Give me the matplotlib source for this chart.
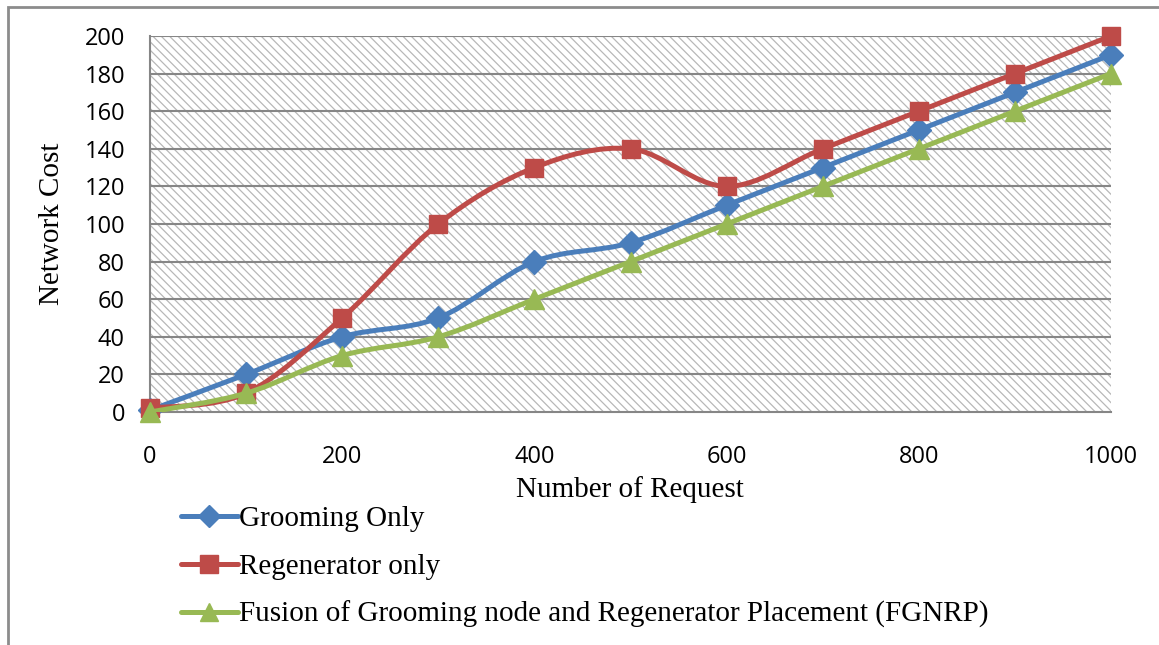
import numpy as np
import matplotlib
matplotlib.use("Agg")
import matplotlib.pyplot as plt
from matplotlib.path import Path
from matplotlib.patches import PathPatch, Rectangle
from matplotlib.lines import Line2D

requests = [0, 100, 200, 300, 400, 500, 600, 700, 800, 900, 1000]
grooming_only = [1, 20, 40, 50, 80, 90, 110, 130, 150, 170, 190]
regenerator_only = [2, 10, 50, 100, 130, 140, 120, 140, 160, 180, 200]
fgnrp = [0, 10, 30, 40, 60, 80, 100, 120, 140, 160, 180]

labels = ["Grooming Only", "Regenerator only",
          "Fusion of Grooming node and Regenerator Placement (FGNRP)"]
colors = ["#4A7EBB", "#BE4B48", "#98B954"]
markers = ["D", "s", "^"]
msizes = [12.5, 13.5, 14]

plt.rcParams["hatch.color"] = "#b8b8b8"
plt.rcParams["hatch.linewidth"] = 0.9


def smooth_path(xs, ys):
    # bezier segments through the points (spreadsheet "smoothed line")
    pts = np.column_stack([xs, ys]).astype(float)
    n = len(pts)
    verts = [pts[0]]
    codes = [Path.MOVETO]
    for i in range(n - 1):
        p0 = pts[i - 1] if i > 0 else pts[i]
        p1 = pts[i]
        p2 = pts[i + 1]
        p3 = pts[i + 2] if i + 2 < n else pts[i + 1]
        c1 = p1 + (p2 - p0) / 6.0
        c2 = p2 - (p3 - p1) / 6.0
        verts += [c1, c2, p2]
        codes += [Path.CURVE4] * 3
    return Path(verts, codes)


fig = plt.figure(figsize=(11.59, 6.45), dpi=100)
ax = fig.add_axes([150 / 1159, 1 - 412 / 645, 961 / 1159, 376 / 645])

ax.set_facecolor("white")
ax.add_patch(Rectangle((0, 0), 1, 1, transform=ax.transAxes, facecolor="white",
                       edgecolor="#b8b8b8", lw=0, hatch="\\\\\\\\", zorder=0.5))

for yv in range(20, 201, 20):
    ax.axhline(yv, color="#868686", lw=1.5, zorder=1)

series = [grooming_only, regenerator_only, fgnrp]
for k, ys in enumerate(series):
    ax.add_patch(PathPatch(smooth_path(requests, ys), facecolor="none",
                           edgecolor=colors[k], lw=3.6, zorder=3 + k,
                           capstyle="round", joinstyle="round"))
    ax.plot(requests, ys, linestyle="none", marker=markers[k], ms=msizes[k],
            color=colors[k], mec=colors[k], zorder=3 + k, clip_on=False)

ax.set_xlim(0, 1000)
ax.set_ylim(0, 200)
ax.set_xticks(range(0, 1001, 200))
ax.set_yticks(range(0, 201, 20))

for s in ["top", "right"]:
    ax.spines[s].set_visible(False)
for s in ["left", "bottom"]:
    ax.spines[s].set_color("#868686")
    ax.spines[s].set_linewidth(1.5)

ax.tick_params(length=0, labelsize=17)
ax.tick_params(axis="x", pad=24)
ax.tick_params(axis="y", pad=18)
for t in ax.get_xticklabels() + ax.get_yticklabels():
    t.set_fontfamily("Open Sans")

fig.text(630 / 1159, 1 - 490 / 645, "Number of Request", ha="center", va="center",
         family="Liberation Serif", fontsize=21)
fig.text(52 / 1159, 1 - 224 / 645, "Network Cost", ha="center", va="center",
         rotation=90, family="Liberation Serif", fontsize=21)

handles = [Line2D([], [], color=colors[k], lw=3.6, marker=markers[k], ms=msizes[k] - 1,
                  solid_capstyle="round") for k in range(3)]
leg = fig.legend(handles, labels, loc="upper left",
                 bbox_to_anchor=(181 / 1159, 1 - 506 / 645), frameon=False,
                 prop={"family": "Liberation Serif", "size": 21},
                 handlelength=1.95, handletextpad=0.05, labelspacing=0.72,
                 borderpad=0, borderaxespad=0)

fig.patches.append(Rectangle((7.5 / 1159, -0.05), 1.2, (1 - 6.5 / 645) + 0.05,
                             transform=fig.transFigure, facecolor="none",
                             edgecolor="#8c8c8c", lw=2, zorder=-1))

fig.savefig("out.png", dpi=100)
